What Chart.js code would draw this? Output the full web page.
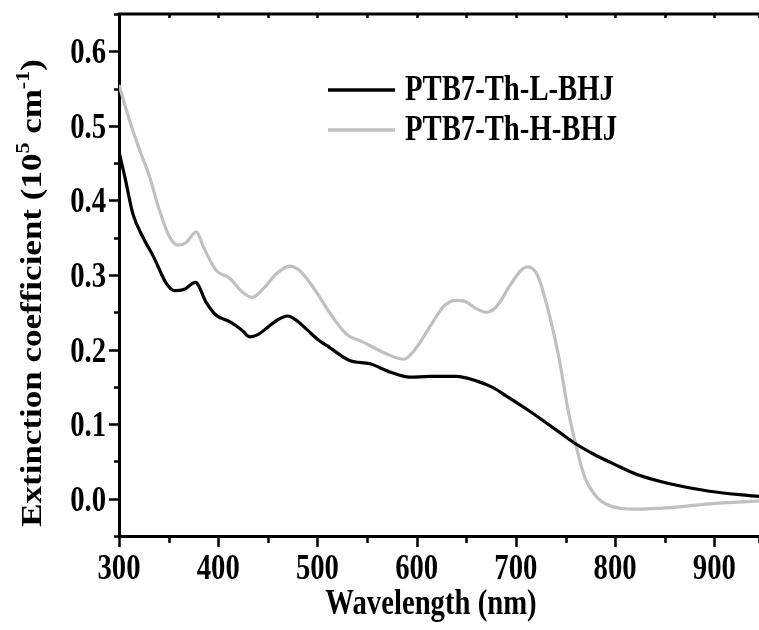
<!DOCTYPE html>
<html>
<head>
<meta charset="utf-8">
<script src="https://cdn.jsdelivr.net/npm/chart.js@4/dist/chart.umd.min.js"></script>
<style>
  body { margin: 0; background: #fff; }
</style>
</head>
<body>
<canvas id="extinctiongraph" width="759" height="630"></canvas>
<script>
const wavelengthL = [300, 306, 314, 324, 335, 348, 356, 366, 377, 388, 398, 412, 424, 432, 440, 450, 460, 470, 480, 490,
    500, 512, 533, 553, 573, 593, 613, 640, 660, 677, 690, 711, 744, 761, 778, 798, 825, 855, 895, 945];
const extinctionL = [0.465, 0.431, 0.382, 0.351, 0.324, 0.288, 0.279, 0.281, 0.290, 0.263, 0.246, 0.237, 0.226, 0.217, 0.220, 0.230, 0.240, 0.245, 0.238, 0.226,
    0.214, 0.203, 0.185, 0.181, 0.170, 0.163, 0.164, 0.164, 0.158, 0.149, 0.138, 0.120, 0.089, 0.073, 0.060, 0.047, 0.031, 0.020, 0.010, 0.003];

const wavelengthH = [300, 310, 321, 331, 340, 351, 360, 368, 378, 385, 392, 398, 412, 422, 434, 445, 459, 472, 482, 490,
    500, 512, 529, 546, 570, 587, 600, 613, 628, 640, 648, 660, 670, 680, 695, 705, 712, 722, 734, 744,
    752, 761, 769, 781, 794, 821, 855, 895, 945];
const extinctionH = [0.555, 0.510, 0.467, 0.431, 0.390, 0.351, 0.340, 0.344, 0.358, 0.338, 0.319, 0.306, 0.295, 0.280, 0.270, 0.281, 0.302, 0.312, 0.306, 0.294,
    0.275, 0.250, 0.221, 0.210, 0.194, 0.187, 0.203, 0.230, 0.259, 0.266, 0.265, 0.255, 0.250, 0.257, 0.288, 0.306, 0.311, 0.299, 0.245, 0.185,
    0.123, 0.069, 0.030, 0.003, -0.009, -0.014, -0.012, -0.007, -0.003];

const seriesLabels = ["PTB7-Th-L-BHJ", "PTB7-Th-H-BHJ"];
const xTickLabels = [300, 400, 500, 600, 700, 800, 900];
const yTickLabels = ["0.0", "0.1", "0.2", "0.3", "0.4", "0.5", "0.6"];

const FONT = '"Liberation Serif", "Times New Roman", serif';
const SQUEEZE = 0.82; // the original figure is horizontally condensed

const toPoints = (xs, ys) => xs.map((x, i) => ({ x: x, y: ys[i] }));

// draw text squeezed horizontally
function squeezedText(ctx, text, x, y, align) {
    ctx.save();
    ctx.translate(x, y);
    ctx.scale(SQUEEZE, 1);
    ctx.textAlign = align;
    ctx.textBaseline = "alphabetic";
    ctx.fillText(text, 0, 0);
    ctx.restore();
}

const axesPlugin = {
    id: "axesPlugin",
    afterDraw(chart) {
        const ctx = chart.ctx;
        const area = chart.chartArea;
        const xs = chart.scales.x;
        const ys = chart.scales.y;

        ctx.save();
        ctx.strokeStyle = "#000";
        ctx.fillStyle = "#000";

        // top frame line
        ctx.lineWidth = 3;
        ctx.beginPath();
        ctx.moveTo(area.left - 1.5, area.top);
        ctx.lineTo(area.right, area.top);
        ctx.stroke();

        // x ticks (bottom outward, top inward)
        ctx.lineWidth = 2.5;
        xs.ticks.forEach((t) => {
            const px = Math.round(xs.getPixelForValue(t.value)) + 0.5;
            const major = Math.round(t.value) % 100 === 0;
            ctx.beginPath();
            ctx.moveTo(px, area.bottom);
            ctx.lineTo(px, area.bottom + (major ? 11 : 7));
            ctx.moveTo(px, area.top);
            ctx.lineTo(px, area.top + 4);
            ctx.stroke();
        });

        // y ticks (left outward)
        ys.ticks.forEach((t) => {
            const py = Math.round(ys.getPixelForValue(t.value)) + 0.5;
            const major = Math.round(t.value * 100) % 10 === 0;
            ctx.beginPath();
            ctx.moveTo(area.left, py);
            ctx.lineTo(area.left - (major ? 10 : 5), py);
            ctx.stroke();
        });

        // tick labels
        ctx.font = "bold 35px " + FONT;
        xTickLabels.forEach((v) => {
            squeezedText(ctx, String(v), xs.getPixelForValue(v), 579, "center");
        });
        yTickLabels.forEach((v) => {
            squeezedText(ctx, v, area.left - 13, ys.getPixelForValue(parseFloat(v)) + 12, "right");
        });

        // x title
        squeezedText(ctx, "Wavelength (nm)", 431, 614, "center");

        // y title with superscripts, rotated
        const big = "bold 35px " + FONT;
        const small = "bold 22px " + FONT;
        const parts = [
            { t: "Extinction coefficient (10", f: big, dy: 0 },
            { t: "5", f: small, dy: -15 },
            { t: " cm", f: big, dy: 0 },
            { t: "-1", f: small, dy: -15 },
            { t: ")", f: big, dy: 0 },
        ];
        let total = 0;
        parts.forEach((p) => {
            ctx.font = p.f;
            p.w = ctx.measureText(p.t).width;
            total += p.w;
        });
        ctx.save();
        ctx.translate(41, 293);
        ctx.rotate(-Math.PI / 2);
        ctx.scale(1, SQUEEZE);
        ctx.textAlign = "left";
        ctx.textBaseline = "alphabetic";
        let cx = -total / 2;
        parts.forEach((p) => {
            ctx.font = p.f;
            ctx.fillText(p.t, cx, p.dy);
            cx += p.w;
        });
        ctx.restore();

        // legend
        ctx.font = "bold 35px " + FONT;
        chart.data.datasets.forEach((ds, i) => {
            const ly = 90 + i * 40;
            ctx.strokeStyle = ds.borderColor;
            ctx.lineWidth = 3.5;
            ctx.beginPath();
            ctx.moveTo(328, ly);
            ctx.lineTo(395, ly);
            ctx.stroke();
            ctx.fillStyle = "#000";
            squeezedText(ctx, ds.label, 405, ly + 10, "left");
        });

        ctx.restore();
    },
};

const ctx = document.getElementById("extinctiongraph").getContext("2d");

new Chart(ctx, {
    type: "line",
    data: {
        datasets: [
            {
                label: seriesLabels[0],
                data: toPoints(wavelengthL, extinctionL),
                borderColor: "#000000",
                borderWidth: 3.2,
                pointRadius: 0,
                cubicInterpolationMode: "monotone",
                fill: false,
            },
            {
                label: seriesLabels[1],
                data: toPoints(wavelengthH, extinctionH),
                borderColor: "#c0c0c0",
                borderWidth: 3.2,
                pointRadius: 0,
                cubicInterpolationMode: "monotone",
                fill: false,
            },
        ],
    },
    options: {
        responsive: false,
        animation: false,
        events: [],
        layout: { padding: { top: 14, right: 0, left: 0, bottom: 0 } },
        plugins: {
            legend: { display: false },
            tooltip: { enabled: false },
        },
        scales: {
            x: {
                type: "linear",
                min: 300,
                max: 945,
                ticks: { display: false, stepSize: 50 },
                grid: { display: false },
                border: { display: true, color: "#000", width: 3 },
                afterFit(scale) {
                    scale.height = 94;
                },
            },
            y: {
                type: "linear",
                min: -0.05,
                max: 0.65,
                ticks: { display: false, stepSize: 0.05 },
                grid: { display: false },
                border: { display: true, color: "#000", width: 3 },
                afterFit(scale) {
                    scale.width = 119;
                },
            },
        },
    },
    plugins: [axesPlugin],
});
</script>
</body>
</html>
